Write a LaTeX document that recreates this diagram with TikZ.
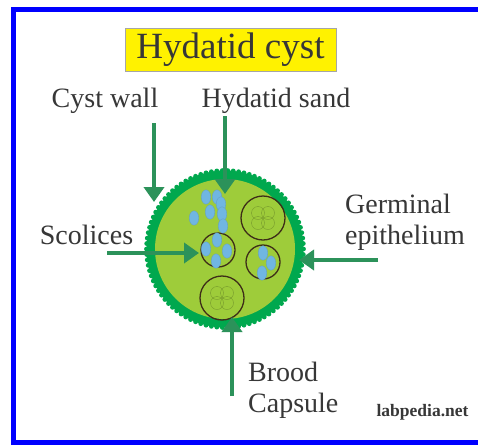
\documentclass[tikz,border=0pt]{standalone}
\usepackage{fontspec}
\setmainfont{Liberation Serif}
\usetikzlibrary{arrows.meta}

\definecolor{wallgreen}{RGB}{0,168,78}
\definecolor{fluidgreen}{RGB}{158,204,58}
\definecolor{arrowgreen}{RGB}{44,146,90}
\definecolor{sandblue}{RGB}{112,182,226}
\definecolor{capsuleline}{RGB}{62,46,24}
\definecolor{labelgray}{RGB}{55,55,55}

\tikzset{
  cystlabel/.style={font=\fontsize{28}{31}\selectfont, text=labelgray, inner sep=0pt},
  pointer/.style={draw=arrowgreen, line width=4pt, -{Triangle[width=20pt,length=15pt]}},
  capsule/.style={draw=capsuleline, line width=1.3pt},
  clover/.style={draw=fluidgreen!75!black, line width=.4pt},
  sand/.style={fill=sandblue, draw=sandblue!85!black, line width=.3pt}
}

\begin{document}
\begin{tikzpicture}[x=1pt, y=-1pt]
\useasboundingbox (0,0) rectangle (478,445);
\fill[white] (0,0) rectangle (478,445);
% open frame, runs off the right edge
\draw[blue, line width=5.5pt, line cap=butt] (478,9.7) -- (13.5,9.7) -- (13.5,442.5) -- (478,442.5);

% title
\node[fill=yellow, draw=black!35, line width=.5pt, minimum width=211pt, minimum height=43pt,
  inner sep=0pt, font=\fontsize{37}{40}\selectfont, text=labelgray] (title) at (230.5,49.5) {Hydatid cyst};

% cyst wall with bumpy rim
\coordinate (cyst) at (225,249);
\fill[wallgreen] (cyst) circle (78.5);
\foreach \a in {0,4,...,356}
  \fill[wallgreen] (cyst) ++(\a:78.5) circle (2.4);
\fill[fluidgreen] (cyst) circle (70);

% brood capsules
\foreach \cx/\cy in {263/218, 222/298} {
  \foreach \dx/\dy in {-5/-5, 5/-5, -5/5, 5/5}
    \draw[clover] (\cx+\dx,\cy+\dy) circle (6.5);
  \draw[capsule] (\cx,\cy) circle (22);
}
\draw[capsule] (218,250) circle (17);
\draw[capsule] (263,262) circle (17);

% hydatid sand
\foreach \sx/\sy in {206/197, 217/197, 221/204, 210/212, 222/214, 223/226, 194/218,
                     217/240, 206/249, 227/251, 216/261,
                     263/253, 271/263, 262/273}
  \draw[sand] (\sx,\sy) ellipse (4.8 and 7.2);

% labels
\node[cystlabel] (wall) at (105,101) {Cyst wall};
\node[cystlabel] (sandlbl) at (276,101) {Hydatid sand};
\node[cystlabel] (scolices) at (86.5,235) {Scolices};
\node[cystlabel, anchor=west, align=left] (germinal) at (345,222) {Germinal\\epithelium};
\node[cystlabel, anchor=west, align=left] (brood) at (248,390) {Brood\\Capsule};
\node[font=\fontsize{17.5}{19}\bfseries, text=labelgray, inner sep=0pt] (site) at (422.5,412) {labpedia.net};

% pointers
\coordinate (wall tail) at (154,123);
\coordinate (wall tip) at (154,202);
\coordinate (sand tail) at (225,116);
\coordinate (sand tip) at (225,194);
\coordinate (scolices tail) at (107,253);
\coordinate (scolices tip) at (199,253);
\coordinate (germinal tail) at (378,260);
\coordinate (germinal tip) at (299,260);
\coordinate (brood tail) at (232,396);
\coordinate (brood tip) at (232,317);
\draw[pointer] (wall tail) -- (wall tip);
\draw[pointer] (sand tail) -- (sand tip);
\draw[pointer] (scolices tail) -- (scolices tip);
\draw[pointer] (germinal tail) -- (germinal tip);
\draw[pointer] (brood tail) -- (brood tip);
\end{tikzpicture}
\end{document}
